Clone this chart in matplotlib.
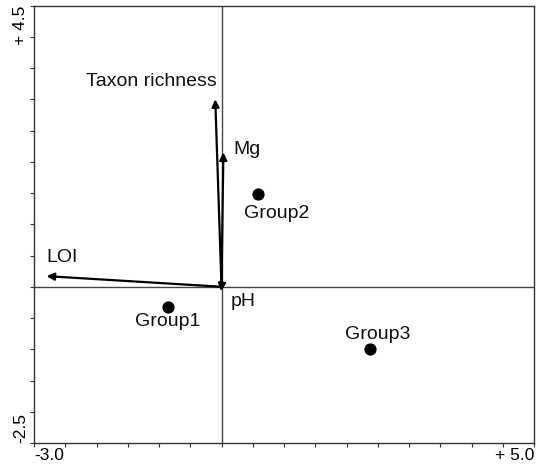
import matplotlib.pyplot as plt

plt.rcParams["font.family"] = ["Liberation Sans", "DejaVu Sans"]

# environmental vectors (biplot arrows from the origin)
var_names = ["Taxon richness", "Mg", "LOI", "pH"]
var_x = [-0.10, 0.03, -2.80, -0.01]
var_y = [3.00, 2.15, 0.17, -0.07]

# group centroids
group_names = ["Group1", "Group2", "Group3"]
group_x = [-0.86, 0.58, 2.38]
group_y = [-0.32, 1.48, -1.00]

# where each label sits (data coords) and how it is aligned
var_label_pos = [(-0.07, 3.28, "right"), (0.19, 2.19, "left"),
                 (-2.80, 0.46, "left"), (0.15, -0.24, "left")]
group_label_pos = [(-0.86, -0.56), (0.88, 1.18), (2.50, -0.77)]

fig = plt.figure(figsize=(5.41, 4.67), dpi=100)
ax = fig.add_axes([34 / 541, 24 / 467, 500 / 541, 437.5 / 467])
ax.set_xlim(-3.0, 5.0)
ax.set_ylim(-2.5, 4.5)

for s in ax.spines.values():
    s.set_color("#333333")
    s.set_linewidth(1.0)

# cross through the origin
ax.axhline(0, color="#444444", lw=1.0, zorder=1)
ax.axvline(0, color="#444444", lw=1.0, zorder=1)

ax.set_xticks([-3.0 + 0.5 * i for i in range(17)])
ax.set_yticks([-2.5 + 0.5 * i for i in range(15)])
ax.set_xticklabels([])
ax.set_yticklabels([])
ax.tick_params(direction="out", length=3, width=0.8, color="#333333")

# corner labels only
ax.text(0, -0.012, "-3.0", transform=ax.transAxes, ha="left", va="top", fontsize=12.5)
ax.text(1, -0.012, "+ 5.0", transform=ax.transAxes, ha="right", va="top", fontsize=12.5)
ax.text(-0.012, 0, "-2.5", transform=ax.transAxes, ha="right", va="bottom",
        rotation=90, fontsize=12.5)
ax.text(-0.012, 1, "+ 4.5", transform=ax.transAxes, ha="right", va="top",
        rotation=90, fontsize=12.5)

for name, vx, vy, (lx, ly, al) in zip(var_names, var_x, var_y, var_label_pos):
    ax.annotate("", xy=(vx, vy), xytext=(0, 0),
                arrowprops=dict(arrowstyle="-|>", color="k", lw=1.6,
                                mutation_scale=11, shrinkA=0, shrinkB=0),
                zorder=3)
    ax.text(lx, ly, name, ha=al, va="center", fontsize=14, color="#111111")

ax.plot(group_x, group_y, "o", color="k", markersize=7.8, zorder=4)
for name, (lx, ly) in zip(group_names, group_label_pos):
    ax.text(lx, ly, name, ha="center", va="center", fontsize=14, color="#111111")

fig.savefig("out.png", dpi=100)
